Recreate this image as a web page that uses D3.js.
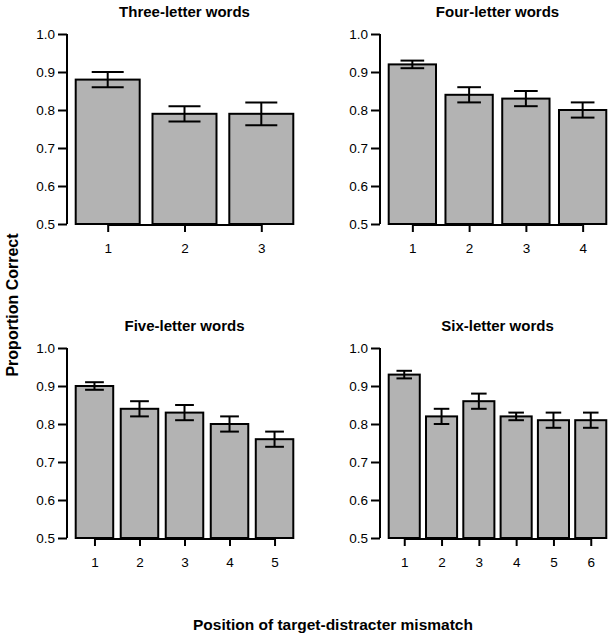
<!DOCTYPE html>
<html><head>
<meta charset="utf-8">
<script src="https://d3js.org/d3.v7.min.js"></script>
<style>
  body { margin: 0; background: #fff; }
  text { font-family: "Liberation Sans", Arial, Helvetica, sans-serif; fill: #000; }
</style>
</head>
<body>
<svg id="chart" width="614" height="637"></svg>
<script>

// panel titles, one per word length
const titles = ["Three-letter words", "Four-letter words", "Five-letter words", "Six-letter words"];

// mean proportion correct per mismatch position
const means3 = [0.88, 0.79, 0.79];
const means4 = [0.92, 0.84, 0.83, 0.80];
const means5 = [0.90, 0.84, 0.83, 0.80, 0.76];
const means6 = [0.93, 0.82, 0.86, 0.82, 0.81, 0.81];

// error bar ends (lower, upper)
const lo3 = [0.86, 0.77, 0.76];
const hi3 = [0.90, 0.81, 0.82];
const lo4 = [0.91, 0.82, 0.81, 0.78];
const hi4 = [0.93, 0.86, 0.85, 0.82];
const lo5 = [0.89, 0.82, 0.81, 0.78, 0.74];
const hi5 = [0.91, 0.86, 0.85, 0.82, 0.78];
const lo6 = [0.92, 0.80, 0.84, 0.81, 0.79, 0.79];
const hi6 = [0.94, 0.84, 0.88, 0.83, 0.83, 0.83];

const yTicks = [0.5, 0.6, 0.7, 0.8, 0.9, 1.0];

const panels = [
  {title: titles[0], means: means3, lo: lo3, hi: hi3, x0: 67,  y0: 0},
  {title: titles[1], means: means4, lo: lo4, hi: hi4, x0: 380, y0: 0},
  {title: titles[2], means: means5, lo: lo5, hi: hi5, x0: 67,  y0: 314},
  {title: titles[3], means: means6, lo: lo6, hi: hi6, x0: 380, y0: 314}
];

const svg = d3.select("#chart");
const plotW = 235;

panels.forEach(p => {
  let n = p.means.length;
  // barplot style layout: width 1, space 0.2, range padded by 4%
  let left = 0.2, right = 1.2 * n;
  let pad = 0.04 * (right - left);
  let x = d3.scaleLinear().domain([left - pad, right + pad]).range([p.x0, p.x0 + plotW]);
  let y = d3.scaleLinear().domain([0.5, 1.0]).range([p.y0 + 224, p.y0 + 34]);

  let g = svg.append("g");

  // bars
  g.selectAll("rect.bar").data(p.means)
    .join("rect")
    .attr("class", "bar")
    .attr("x", (d, i) => x(0.2 + 1.2 * i))
    .attr("width", x(1) - x(0))
    .attr("y", d => y(d))
    .attr("height", d => y(0.5) - y(d))
    .attr("fill", "#b3b3b3")
    .attr("stroke", "#000")
    .attr("stroke-width", 2);

  // error bars
  let mid = i => x(0.7 + 1.2 * i);
  let half = (x(1) - x(0)) * 0.25;
  let eb = g.selectAll("g.eb").data(p.means).join("g").attr("class", "eb")
    .attr("stroke", "#000").attr("stroke-width", 2);
  eb.append("line")
    .attr("x1", (d, i) => mid(i)).attr("x2", (d, i) => mid(i))
    .attr("y1", (d, i) => y(p.lo[i])).attr("y2", (d, i) => y(p.hi[i]));
  eb.append("line")
    .attr("x1", (d, i) => mid(i) - half).attr("x2", (d, i) => mid(i) + half)
    .attr("y1", (d, i) => y(p.lo[i])).attr("y2", (d, i) => y(p.lo[i]));
  eb.append("line")
    .attr("x1", (d, i) => mid(i) - half).attr("x2", (d, i) => mid(i) + half)
    .attr("y1", (d, i) => y(p.hi[i])).attr("y2", (d, i) => y(p.hi[i]));

  // y axis
  let yAxis = g.append("g")
    .attr("transform", `translate(${p.x0},0)`)
    .call(d3.axisLeft(y).tickValues(yTicks).tickFormat(d3.format(".1f")).tickSize(9).tickPadding(3));
  yAxis.select(".domain").attr("stroke-width", 2).attr("d", `M0,${y(0.5)}V${y(1.0)}`);
  yAxis.selectAll(".tick line").attr("stroke-width", 2);
  yAxis.selectAll(".tick text").attr("font-size", 13.5).attr("font-family", null).attr("fill", "#222");

  // x axis, line only between first and last tick
  let xAxis = g.append("g")
    .attr("transform", `translate(0,${y(0.5) + 1})`)
    .call(d3.axisBottom(x).tickValues(p.means.map((d, i) => 0.7 + 1.2 * i))
      .tickFormat((d, i) => i + 1).tickSize(7).tickPadding(11));
  xAxis.select(".domain").attr("stroke-width", 2)
    .attr("d", `M${mid(0)},0H${mid(n - 1)}`);
  xAxis.selectAll(".tick line").attr("stroke-width", 2);
  xAxis.selectAll(".tick text").attr("font-size", 13.5).attr("font-family", null).attr("fill", "#222");

  // title
  g.append("text")
    .attr("x", p.x0 + plotW / 2)
    .attr("y", p.y0 + 17)
    .attr("text-anchor", "middle")
    .attr("font-size", 15)
    .attr("font-weight", "bold")
    .text(p.title);
});

// shared axis titles
svg.append("text")
  .attr("transform", "translate(18,305) rotate(-90)")
  .attr("text-anchor", "middle")
  .attr("font-size", 16)
  .attr("font-weight", "bold")
  .text("Proportion Correct");

svg.append("text")
  .attr("x", 333)
  .attr("y", 630)
  .attr("text-anchor", "middle")
  .attr("font-size", 15.5)
  .attr("font-weight", "bold")
  .text("Position of target-distracter mismatch");

</script>
</body>
</html>
